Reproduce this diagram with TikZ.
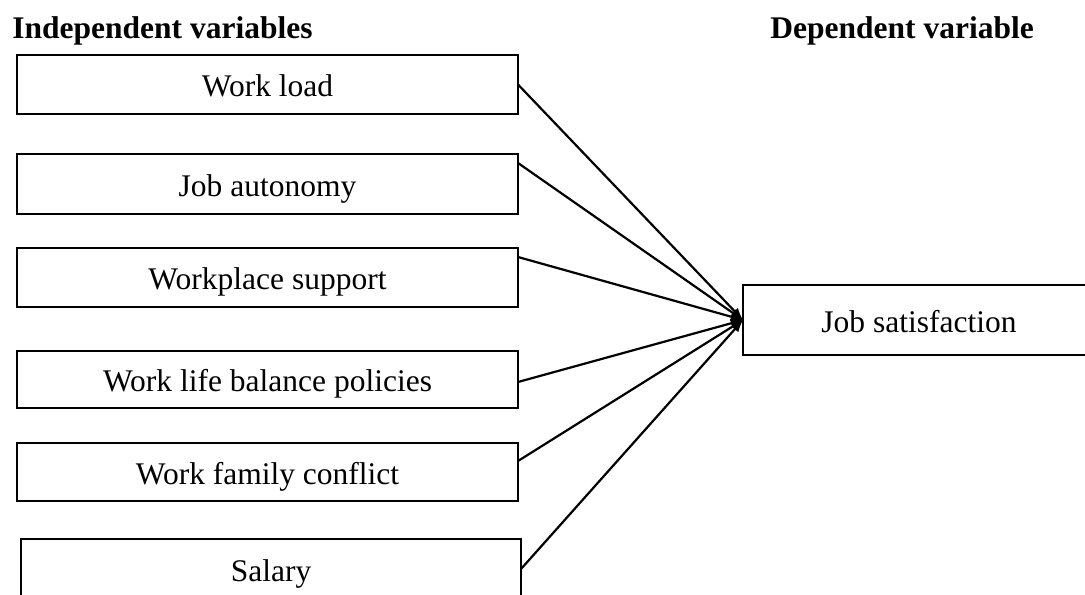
\documentclass[tikz,border=0pt]{standalone}
\usepackage{fontspec}
\setmainfont{Liberation Serif}
\usetikzlibrary{positioning}

\begin{document}
\begin{tikzpicture}
  [font=\fontsize{15.75}{18}\selectfont,
  varbox/.style={rectangle, draw=black, line width=1.25pt, inner sep=0pt, outer sep=0pt, minimum width=250.5pt, text height=12pt, text depth=0pt},
  heading/.style={anchor=base west, inner sep=0pt, font=\fontsize{15.75}{18}\selectfont\bfseries},
  pfeil/.style={line width=1.1pt, -latex}]
  \useasboundingbox (0,0) rectangle (542.5pt,-297pt);
  \clip (0,0) rectangle (542.5pt,-297pt);
  \node (unabh) [heading] at (6pt,-19pt) {Independent variables};
  \node (abh) [heading] at (385pt,-19pt) {Dependent variable};
  \node (load)  [varbox, minimum height=29.5pt] at (133.75pt,-42.25pt) {Work load};
  \node (auto)  [varbox, minimum height=30pt, below=20pt of load] {Job autonomy};
  \node (support) [varbox, minimum height=29.5pt, below=17pt of auto] {Workplace support};
  \node (balance) [varbox, minimum height=28.5pt, below=22pt of support] {Work life balance policies};
  \node (conflict) [varbox, minimum height=29pt, below=17.5pt of balance] {Work family conflict};
  \node (salary) [varbox, minimum height=30pt, minimum width=250pt, below=19pt of conflict, xshift=1.75pt] {Salary};
  \node (zufrieden) [varbox, minimum height=35pt, minimum width=176pt] at (459.5pt,-160pt) {Job satisfaction};
  \draw [pfeil] (load.east) -- (zufrieden.west);
  \draw [pfeil] ([yshift=10.5pt]auto.east) -- (zufrieden.west);
  \draw [pfeil] ([yshift=10.25pt]support.east) -- (zufrieden.west);
  \draw [pfeil] ([yshift=-1.25pt]balance.east) -- (zufrieden.west);
  \draw [pfeil] ([yshift=5.5pt]conflict.east) -- (zufrieden.west);
  \draw [pfeil] (salary.east) -- (zufrieden.west);
\end{tikzpicture}
\end{document}
